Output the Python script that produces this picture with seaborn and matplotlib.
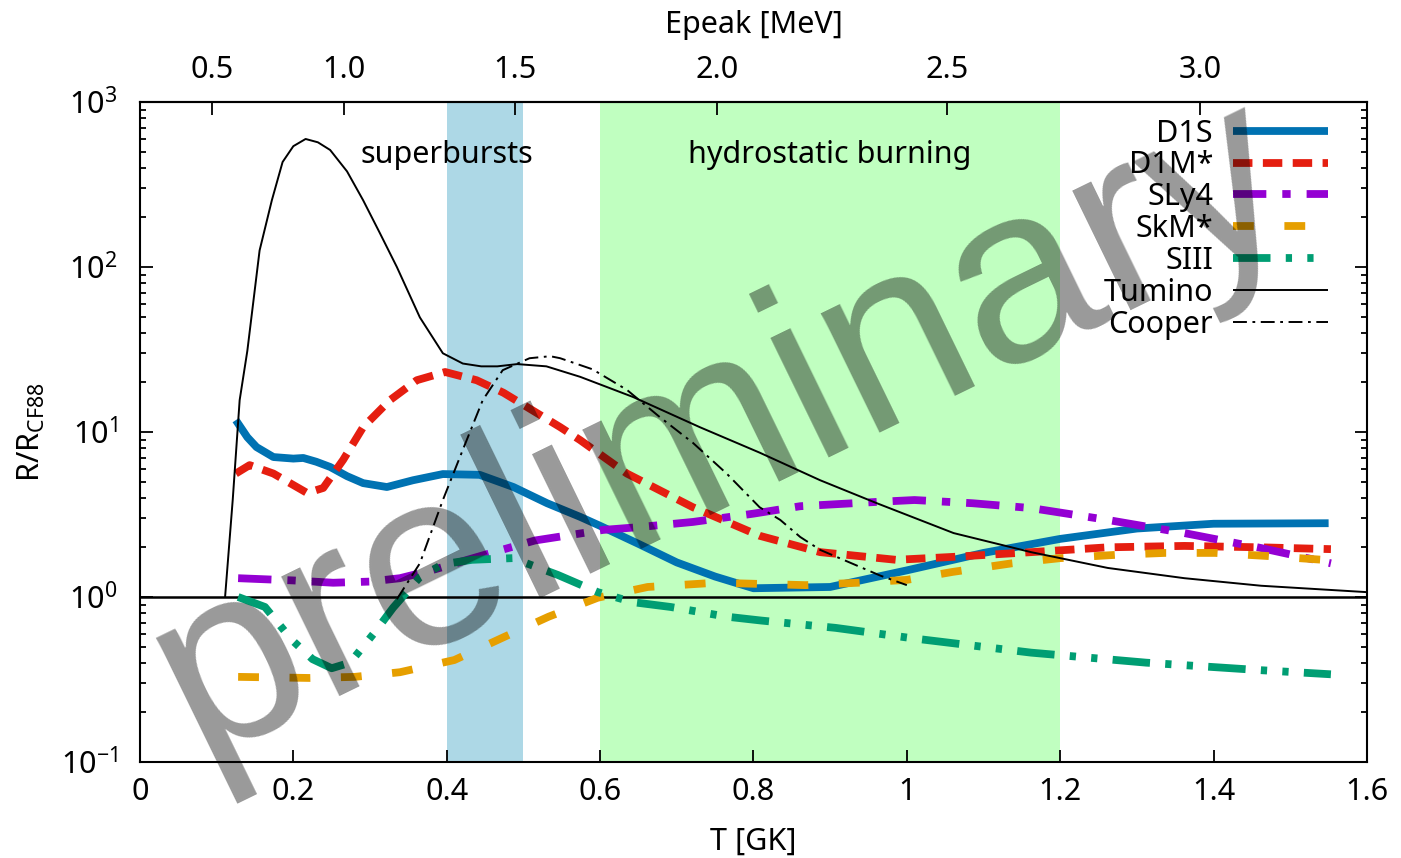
import numpy as np
import pandas as pd
import matplotlib
matplotlib.use("Agg")
import matplotlib.pyplot as plt
from matplotlib.ticker import FixedLocator, FuncFormatter, LogLocator, NullFormatter, NullLocator
import seaborn as sns

# ---- rate ratios R / R_CF88 versus temperature T [GK] ----
T_d1s = [0.125, 0.140, 0.152, 0.174, 0.200, 0.213, 0.230, 0.248, 0.270, 0.291, 0.322, 0.356,
         0.395, 0.443, 0.487, 0.531, 0.574, 0.600, 0.650, 0.700, 0.750, 0.800, 0.900, 1.000,
         1.100, 1.200, 1.300, 1.400, 1.550]
R_d1s = [11.8, 9.3, 8.1, 7.05, 6.9, 6.96, 6.6, 6.14, 5.4, 4.9, 4.64, 5.1,
         5.56, 5.5, 4.64, 3.7, 3.06, 2.7, 2.1, 1.62, 1.33, 1.13, 1.15, 1.45,
         1.85, 2.25, 2.6, 2.78, 2.8]

T_d1m = [0.125, 0.143, 0.174, 0.218, 0.239, 0.265, 0.291, 0.326, 0.361, 0.398, 0.439, 0.474,
         0.518, 0.548, 0.574, 0.635, 0.721, 0.808, 0.887, 0.986, 1.060, 1.162, 1.262, 1.362,
         1.462, 1.553]
R_d1m = [5.6, 6.3, 5.6, 4.27, 4.58, 6.78, 10.7, 15.6, 20.6, 23.1, 20.6, 17.3,
         13.0, 10.7, 8.93, 5.6, 3.5, 2.35, 1.87, 1.68, 1.75, 1.87, 2.0, 2.04,
         2.0, 1.95]

T_sly4 = [0.128, 0.200, 0.252, 0.300, 0.339, 0.380, 0.427, 0.470, 0.515, 0.560, 0.604, 0.650,
          0.721, 0.800, 0.861, 0.961, 1.010, 1.086, 1.162, 1.262, 1.362, 1.462, 1.553]
R_sly4 = [1.30, 1.26, 1.22, 1.24, 1.30, 1.45, 1.68, 1.92, 2.2, 2.37, 2.55, 2.65,
          2.85, 3.2, 3.55, 3.77, 3.87, 3.7, 3.46, 2.93, 2.44, 1.98, 1.6]

T_skm = [0.128, 0.222, 0.280, 0.339, 0.410, 0.474, 0.533, 0.597, 0.662, 0.751, 0.868, 0.936,
         1.000, 1.060, 1.137, 1.200, 1.272, 1.337, 1.402, 1.472, 1.543]
R_skm = [0.328, 0.323, 0.328, 0.35, 0.415, 0.57, 0.76, 0.99, 1.15, 1.22, 1.18, 1.22,
         1.27, 1.42, 1.6, 1.72, 1.8, 1.85, 1.85, 1.77, 1.68]

T_siii = [0.128, 0.163, 0.198, 0.225, 0.250, 0.274, 0.291, 0.306, 0.330, 0.365, 0.395, 0.433,
          0.486, 0.545, 0.597, 0.643, 0.692, 0.765, 0.810, 0.907, 1.010, 1.162, 1.312, 1.462,
          1.553]
R_siii = [1.0, 0.87, 0.55, 0.42, 0.37, 0.40, 0.50, 0.61, 0.86, 1.32, 1.58, 1.68,
          1.72, 1.36, 1.07, 0.93, 0.87, 0.76, 0.72, 0.65, 0.56, 0.46, 0.40, 0.36,
          0.34]

T_tumino = [0.111, 0.121, 0.130, 0.140, 0.156, 0.172, 0.186, 0.200, 0.216, 0.232, 0.248, 0.270,
            0.291, 0.313, 0.335, 0.365, 0.395, 0.421, 0.445, 0.466, 0.492, 0.530, 0.574, 0.643,
            0.730, 0.808, 0.887, 0.961, 1.061, 1.162, 1.262, 1.362, 1.462, 1.600]
R_tumino = [1.0, 3.9, 15.6, 31, 126, 254, 433, 540, 597, 570, 512, 380,
            254, 160, 100, 49.5, 30, 26, 25, 25, 25.8, 25, 21.6, 16.3,
            10.7, 7.5, 5.1, 3.7, 2.44, 1.87, 1.50, 1.30, 1.17, 1.07]

T_cooper = [0.335, 0.365, 0.395, 0.421, 0.447, 0.473, 0.508, 0.535, 0.548, 0.590, 0.635, 0.678,
            0.721, 0.765, 0.808, 0.835, 0.861, 0.887, 0.928, 0.965, 1.000]
R_cooper = [0.97, 1.6, 3.87, 7.8, 15.6, 23.7, 28, 28.8, 28, 24, 18, 12.3,
            8.6, 5.6, 3.5, 2.93, 2.31, 1.93, 1.6, 1.35, 1.18]

# temperature windows of the two burning regimes [GK]
superburst_T = (0.4, 0.5)
hydrostatic_T = (0.6, 1.2)

# Gamow peak energy of 12C+12C: E0 = 0.122 (Z1^2 Z2^2 mu)^(1/3) T9^(2/3) MeV
Z, mu = 6, 6.0
gamow_k = 0.122 * (Z ** 4 * mu) ** (1.0 / 3.0)
epeak_ticks = [0.5, 1.0, 1.5, 2.0, 2.5, 3.0]
t_ticks = [0, 0.2, 0.4, 0.6, 0.8, 1.0, 1.2, 1.4, 1.6]

series = [
    # label, T, R, colour, width, dash pattern (points)
    ("D1S", T_d1s, R_d1s, "#0072b2", 5.6, None),
    ("D1M*", T_d1m, R_d1m, "#e51e10", 5.6, (14, 7.5)),
    ("SLy4", T_sly4, R_sly4, "#9400d3", 5.6, (24, 11.5, 6, 11.5)),
    ("SkM*", T_skm, R_skm, "#e69f00", 5.6, (15, 22)),
    ("SIII", T_siii, R_siii, "#009e73", 5.6, (27, 11, 4.5, 11, 4.5, 11)),
    ("Tumino", T_tumino, R_tumino, "black", 1.4, None),
    ("Cooper", T_cooper, R_cooper, "black", 1.4, (10, 4, 2, 4)),
]

sns.set_theme(style="ticks", rc={
    "axes.edgecolor": "black", "text.color": "black", "axes.labelcolor": "black",
    "xtick.color": "black", "ytick.color": "black", "lines.scale_dashes": False,
})
plt.rcParams["font.family"] = ["Noto Sans", "DejaVu Sans"]
plt.rcParams["mathtext.fontset"] = "custom"
plt.rcParams["mathtext.rm"] = "Noto Sans"
plt.rcParams["mathtext.default"] = "regular"

FS = 22

fig = plt.figure(figsize=(14.01, 8.58), dpi=100)
ax = fig.add_axes([0.0999, 0.1119, 0.8758, 0.7692])

ax.axvspan(*superburst_T, color="#add8e6", lw=0, zorder=0)
ax.axvspan(*hydrostatic_T, color="#c0ffc0", lw=0, zorder=0)
ax.axhline(1.0, color="black", lw=1.8, zorder=1)

for label, T, R, col, lw, dash in series:
    df = pd.DataFrame({"T": T, "R": R})
    ls = "-" if dash is None else (0, dash)
    sns.lineplot(data=df, x="T", y="R", ax=ax, color=col, lw=lw, linestyle=ls,
                 label=label, sort=False, estimator=None, zorder=3)
for line in ax.get_lines():
    line.set_solid_capstyle("butt")
    line.set_dash_capstyle("butt")

ax.set_yscale("log")
ax.set_xlim(0, 1.6)
ax.set_ylim(0.1, 1000)

ax.xaxis.set_major_locator(FixedLocator(t_ticks))
ax.xaxis.set_major_formatter(FuncFormatter(lambda v, p: "%g" % v))
ax.xaxis.set_minor_locator(NullLocator())
ax.yaxis.set_major_locator(LogLocator(base=10, numticks=10))
ax.yaxis.set_minor_locator(LogLocator(base=10, subs=np.arange(2, 10), numticks=20))
ax.yaxis.set_minor_formatter(NullFormatter())

ax.tick_params(which="both", direction="in", top=False, right=True, width=1.3)
ax.tick_params(which="major", length=9, labelsize=FS)
ax.tick_params(which="minor", length=4.5)
ax.tick_params(axis="x", pad=11)
ax.tick_params(axis="y", pad=16)
for sp in ax.spines.values():
    sp.set_linewidth(1.5)

ax.set_xlabel("T [GK]", fontsize=FS, labelpad=14)
ax.set_ylabel(r"R/R$_{\mathregular{CF88}}$", fontsize=FS, labelpad=10)


def t_to_e(t):
    t = np.asarray(t, dtype=float)
    return gamow_k * np.sign(t) * np.abs(t) ** (2.0 / 3.0)


def e_to_t(e):
    e = np.asarray(e, dtype=float)
    return np.sign(e) * np.abs(e / gamow_k) ** 1.5


top = ax.secondary_xaxis("top", functions=(t_to_e, e_to_t))
top.xaxis.set_major_locator(FixedLocator(epeak_ticks))
top.xaxis.set_major_formatter(FuncFormatter(lambda v, p: "%.1f" % v))
top.xaxis.set_minor_locator(NullLocator())
top.tick_params(direction="in", length=9, width=1.3, labelsize=FS, pad=12)
top.set_xlabel("Epeak [MeV]", fontsize=FS, labelpad=16)
top.spines["top"].set_linewidth(1.5)

ax.text(np.mean(superburst_T) - 0.05, 480, "superbursts", fontsize=FS,
        ha="center", va="center", zorder=4)
ax.text(np.mean(hydrostatic_T), 480, "hydrostatic burning", fontsize=FS,
        ha="center", va="center", zorder=4)

leg = ax.legend(loc="upper right", bbox_to_anchor=(0.968, 0.975), frameon=False,
                markerfirst=False, fontsize=FS, handlelength=3.1, handletextpad=0.65,
                labelspacing=0.06, borderaxespad=0, borderpad=0)
leg.set_zorder(6)

ax.text(0.498, 0.415, "preliminary", transform=ax.transAxes, rotation=26,
        rotation_mode="anchor", ha="center", va="baseline", fontsize=181,
        family="Liberation Sans", color="black", alpha=0.4, zorder=20)

fig.savefig("out.png", dpi=100)
